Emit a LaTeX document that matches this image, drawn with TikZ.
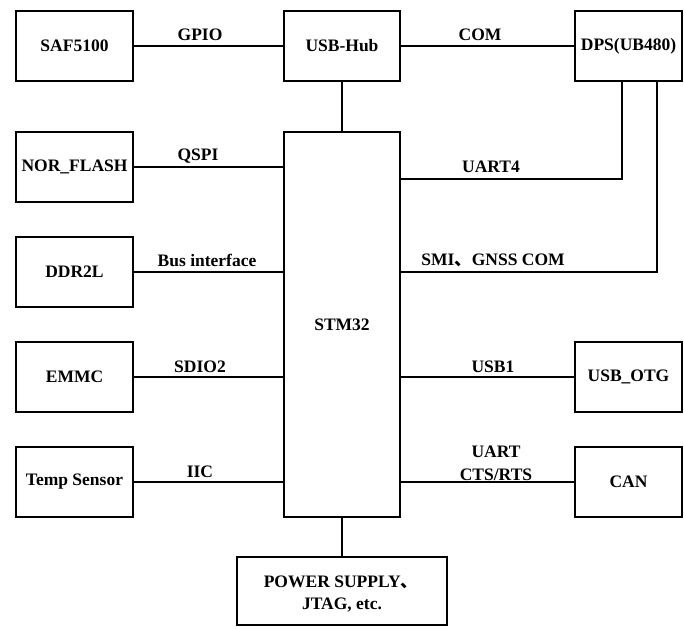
\documentclass[tikz,border=0pt]{standalone}
\usepackage{fontspec}
\setmainfont{Liberation Serif}
\newfontfamily\cjk{Noto Sans CJK SC}
\begin{document}
\begin{tikzpicture}[x=1pt,y=-1pt,
  blk/.style={draw, line width=2.6pt, minimum height=70pt, inner sep=0pt, align=center,
    font=\fontsize{17.5}{22}\selectfont\bfseries},
  lbl/.style={inner sep=0pt, font=\fontsize{17.5}{22}\selectfont\bfseries, align=center},
  wire/.style={line width=1.6pt}]
\useasboundingbox (0,0) rectangle (684,628);
% left column
\node[blk, minimum width=117pt] (saf) at (74.5,46) {SAF5100};
\node[blk, minimum width=117pt] (nor) at (74.5,167) {NOR\_FLASH};
\node[blk, minimum width=117pt] (ddr) at (74.5,272) {DDR2L};
\node[blk, minimum width=117pt] (emmc) at (74.5,377) {EMMC};
\node[blk, minimum width=117pt] (temp) at (74.5,482) {Temp Sensor};
% middle
\node[blk, minimum width=116pt] (hub) at (342,46) {USB-Hub};
\node[blk, minimum width=116pt, minimum height=385pt] (stm) at (342,324.5) {STM32};
\node[blk, minimum width=210pt, minimum height=68pt] (pwr) at (342,591) {};
\node[lbl] (pwrt1) at (341,582) {POWER SUPPLY{\cjk 、}};
\node[lbl] (pwrt2) at (342,605) {JTAG, etc.};
% right column
\node[blk, minimum width=107pt] (dps) at (628.5,46) {DPS(UB480)};
\node[blk, minimum width=107pt] (otg) at (628.5,377) {USB\_OTG};
\node[blk, minimum width=107pt] (can) at (628.5,482) {CAN};
% connectors
\draw[wire] (saf.east) -- (hub.west);
\draw[wire] (hub.east) -- (dps.west);
\draw[wire] (hub.south) -- (stm.north);
\draw[wire] (nor.east) -- (nor.east -| stm.west);
\draw[wire] (ddr.east) -- (ddr.east -| stm.west);
\draw[wire] (emmc.east) -- (emmc.east -| stm.west);
\draw[wire] (temp.east) -- (temp.east -| stm.west);
\draw[wire] (otg.west) -- (otg.west -| stm.east);
\draw[wire] (can.west) -- (can.west -| stm.east);
\draw[wire] (stm.south) -- (pwr.north);
\coordinate (u4) at (622,179);
\coordinate (smi) at (657,272);
\draw[wire] (u4 -| stm.east) -- (u4) -- (u4 |- dps.south);
\draw[wire] (smi -| stm.east) -- (smi) -- (smi |- dps.south);
% labels
\node[lbl] (lgpio) at (200,35) {GPIO};
\node[lbl] (lcom) at (480,35) {COM};
\node[lbl] (lqspi) at (198,156) {QSPI};
\node[lbl] (luart4) at (491,167) {UART4};
\node[lbl] (lbus) at (207,260) {Bus interface};
\node[lbl] (lsmi) at (493,260) {SMI{\cjk 、}GNSS COM};
\node[lbl] (lsdio) at (200,367) {SDIO2};
\node[lbl] (lusb1) at (493,367) {USB1};
\node[lbl] (liic) at (200,472) {IIC};
\node[lbl] (luart) at (496,452) {UART};
\node[lbl] (lcts) at (496,475) {CTS/RTS};
\end{tikzpicture}
\end{document}
